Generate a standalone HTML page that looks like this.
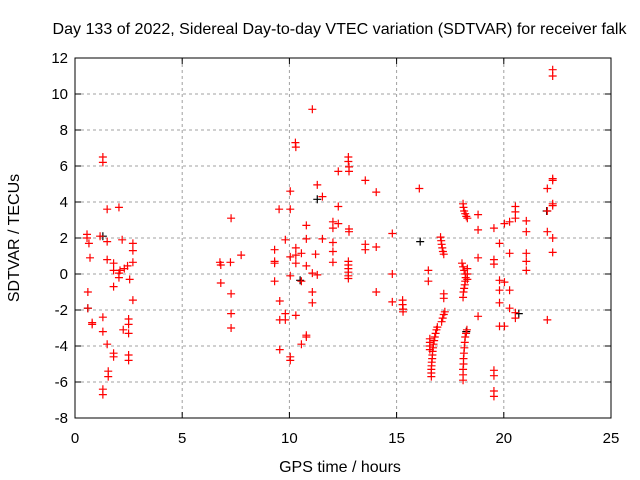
<!DOCTYPE html>
<html><head><meta charset="utf-8"><style>
body{margin:0;background:#fff}
svg{display:block;font-family:"Liberation Sans",sans-serif}
</style></head><body>
<svg id="chart" width="640" height="480" viewBox="0 0 640 480" xmlns="http://www.w3.org/2000/svg">
<rect width="640" height="480" fill="#fff"/>
<text x="339.5" y="34" font-size="16" text-anchor="middle" textLength="574" lengthAdjust="spacingAndGlyphs">Day 133 of 2022, Sidereal Day-to-day VTEC variation (SDTVAR) for receiver falk</text>
<text transform="translate(19,238) rotate(-90)" font-size="16" text-anchor="middle">SDTVAR / TECUs</text>
<text x="340" y="472" font-size="16" text-anchor="middle">GPS time / hours</text>
<g id="grid"></g>
<g id="ticks"></g>
<g id="marks"></g>
<rect x="75" y="58" width="536" height="360" fill="none" stroke="#000" stroke-width="1"/>
</svg>
<script>
const xTicks=[0,5,10,15,20,25];
const yTicks=[-8,-6,-4,-2,0,2,4,6,8,10,12];
const redX=[0.56,0.56,0.6,0.6,0.65,0.7,0.8,0.8,1.17,1.3,1.3,1.3,1.3,1.3,1.3,1.5,1.5,1.5,1.5,1.55,1.55,1.8,1.8,1.8,1.8,1.8,2.05,2.05,2.05,2.1,2.2,2.25,2.3,2.45,2.5,2.5,2.5,2.5,2.5,2.55,2.7,2.7,2.7,2.7,
6.76,6.8,6.8,7.28,7.25,7.28,7.28,7.28,7.75,
9.31,9.31,9.31,9.31,9.55,9.55,9.55,9.52,9.81,9.81,9.81,10.04,10.04,10.04,10.04,10.04,10.04,10.28,10.3,10.3,10.3,10.3,10.3,10.56,10.56,10.56,10.79,10.79,10.79,10.79,10.79,11.07,11.07,11.07,11.07,11.22,11.3,11.3,11.54,11.54,12.03,12.03,12.03,12.03,12.03,12.28,12.28,12.28,12.75,12.75,12.78,12.78,12.78,12.78,12.75,12.75,12.75,12.75,12.75,12.75,13.54,13.54,13.54,14.05,14.05,14.05,14.8,14.8,14.8,15.28,15.28,15.3,15.3,16.06,
16.48,16.48,16.62,16.62,16.62,16.63,16.64,16.66,16.67,16.68,16.7,16.72,16.75,16.78,16.82,16.86,16.9,16.55,16.55,16.55,16.55,
17.05,17.08,17.1,17.13,17.16,17.2,17.2,17.2,17.1,17.15,17.2,17.25,
18.1,18.1,18.1,18.12,18.12,18.14,18.16,18.18,18.2,18.24,18.28,
18.05,18.1,18.15,18.2,18.22,18.2,18.18,18.15,18.12,18.1,18.3,18.3,18.3,
18.1,18.12,18.15,18.2,18.25,18.3,
18.8,18.8,18.8,18.8,19.54,19.54,19.54,19.54,19.54,19.54,19.54,19.8,19.8,19.8,19.8,19.8,20.03,20.03,20.03,20.27,20.27,20.27,20.27,20.54,20.54,20.54,20.54,20.54,21.05,21.05,21.05,21.05,21.05,
22.28,22.28,22.28,22.28,22.03,22.28,22.28,22.03,22.03,22.28,22.28,22.03];
const redY=[2.2,2.0,-1.0,-1.9,1.7,0.9,-2.7,-2.8,2.1,6.5,6.2,-2.4,-3.2,-6.4,-6.7,3.6,1.8,0.8,-3.9,-5.4,-5.7,0.6,0.2,-0.7,-4.4,-4.6,3.7,0.05,-0.2,0.2,1.9,-3.1,0.3,0.45,-2.5,-2.8,-3.3,-4.5,-4.8,-0.3,1.7,1.3,0.65,-1.45,
0.65,0.5,-0.5,3.1,0.65,-1.1,-2.2,-3.0,1.05,
1.35,0.7,0.6,-0.4,-1.5,-2.55,-4.2,3.6,1.9,-2.2,-2.55,4.6,3.6,-0.1,0.95,-4.8,-4.6,7.3,7.05,1.45,1.05,0.6,-2.3,1.15,-0.4,-3.9,2.7,1.95,0.45,-3.4,-3.5,9.15,0.05,-1.0,-1.6,1.1,4.95,-0.05,4.3,1.95,2.9,2.55,1.75,1.25,0.65,5.7,3.75,2.8,6.5,6.25,5.95,5.7,2.5,2.35,0.7,0.5,0.3,0.1,-0.1,-0.25,5.2,1.65,1.35,4.55,1.5,-1.0,2.25,0.0,-1.55,-1.45,-1.7,-1.95,-2.1,4.75,
0.2,-0.4,-5.7,-5.5,-5.3,-5.1,-4.9,-4.7,-4.5,-4.3,-4.1,-3.9,-3.7,-3.5,-3.3,-3.1,-2.95,-3.6,-3.8,-4.0,-4.2,
2.05,1.85,1.65,1.45,1.25,1.1,-1.1,-1.35,-2.65,-2.45,-2.25,-2.1,
-5.9,-5.6,-5.3,-5.0,-4.7,-4.4,-4.1,-3.8,-3.5,-3.3,-3.1,
0.6,0.4,0.2,0.0,-0.2,-0.4,-0.6,-0.8,-1.0,-1.3,0.3,0.0,-0.3,
3.9,3.7,3.5,3.35,3.2,3.1,
3.3,2.45,0.9,-2.35,2.55,0.8,0.55,-5.35,-5.65,-6.5,-6.8,1.7,-0.35,-0.9,-1.6,-2.9,2.8,-0.45,-2.9,2.9,1.15,-0.9,-1.9,3.75,3.45,3.1,-2.15,-2.45,2.95,2.35,1.15,0.7,0.2,
11.35,11.0,5.3,5.2,4.75,3.9,3.8,3.5,2.35,2.0,1.2,-2.55];
const blackX=[0.6,1.3,10.5,11.3,16.1,18.25,22.0,20.7];
const blackY=[-1.9,2.1,-0.35,4.15,1.8,-3.2,3.5,-2.2];

const X0=75,X1=611,Y0=418,Y1=58;
const xs=v=>X0+(v-0)/(25-0)*(X1-X0);
const ys=v=>Y0-(v+8)/(12+8)*(Y0-Y1);
const NS="http://www.w3.org/2000/svg";
function mk(t,a,p){const e=document.createElementNS(NS,t);for(const k in a)e.setAttribute(k,a[k]);p.appendChild(e);return e;}
const grid=document.getElementById('grid'),ticks=document.getElementById('ticks'),marks=document.getElementById('marks');
xTicks.forEach(v=>{const x=xs(v);
 if(v>0&&v<25){const g=mk('line',{x1:x,x2:x,y1:Y1,y2:Y0,stroke:'#a0a0a0','stroke-dasharray':'3,3'},grid);
 
 }
 mk('line',{x1:x,x2:x,y1:Y0,y2:Y0-6,stroke:'#000'},ticks);
 mk('line',{x1:x,x2:x,y1:Y1,y2:Y1+6,stroke:'#000'},ticks);
 const t=mk('text',{x:x,y:Y0+25,'font-size':15,'text-anchor':'middle'},ticks);t.textContent=v;
 
 });
yTicks.forEach(v=>{const y=ys(v);
 if(v>-8&&v<12){const g=mk('line',{x1:X0,x2:X1,y1:y,y2:y,stroke:'#a0a0a0','stroke-dasharray':'3,3'},grid);
 
 }
 mk('line',{x1:X0,x2:X0+6,y1:y,y2:y,stroke:'#000'},ticks);
 mk('line',{x1:X1,x2:X1-6,y1:y,y2:y,stroke:'#000'},ticks);
 const t=mk('text',{x:X0-7,y:y+5,'font-size':15,'text-anchor':'end'},ticks);t.textContent=v;
 
 });
function plus(x,y,c,name){const g=mk('path',{d:`M${x-4},${y}h8M${x},${y-4}v8`,stroke:c,'stroke-width':1.2,fill:'none'},marks);
 
 }
blackX.forEach((v,i)=>plus(xs(v),ys(blackY[i]),'#000','black-point'));
redX.forEach((v,i)=>plus(xs(v),ys(redY[i]),'#f00','sdtvar-point'));
</script>
</body></html>
